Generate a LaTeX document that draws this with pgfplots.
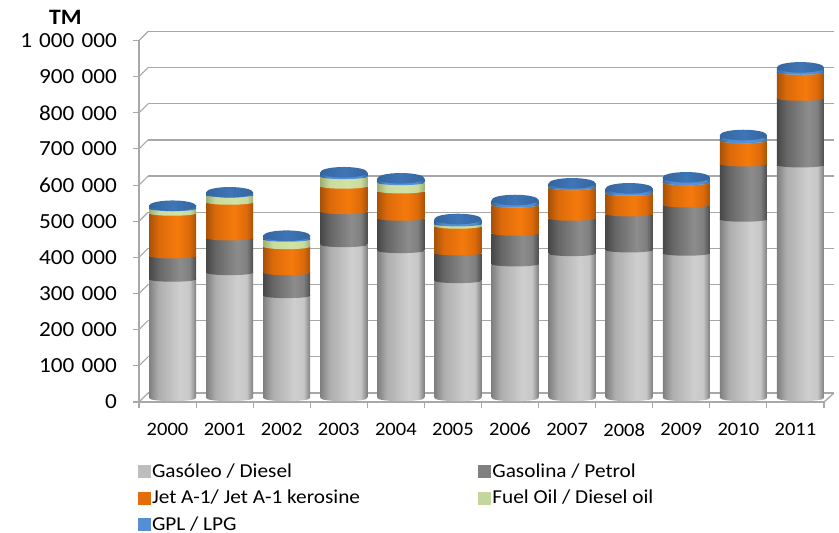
\documentclass[border=0pt]{standalone}
\usepackage{pgfplots}
\usepackage{pgfplotstable}
\usepackage{fontspec}
\pgfplotsset{compat=1.18}
\setmainfont[FakeStretch=1.08]{Carlito}
\definecolor{wall}{HTML}{A8A8A8}
\definecolor{cGas}{HTML}{BEBEBE}
\definecolor{cPet}{HTML}{808080}
\definecolor{cJet}{HTML}{E46C0A}
\definecolor{cFue}{HTML}{C3D69B}
\definecolor{cGpl}{HTML}{558ED5}
\pgfdeclarehorizontalshading{shGas}{100bp}{color(0bp)=(black!50!white); color(25bp)=(black!50!white); color(35bp)=(black!32!white); color(58bp)=(black!19!white); color(68bp)=(black!22!white); color(75bp)=(black!50!white); color(100bp)=(black!50!white)}
\pgfdeclarehorizontalshading{shPet}{100bp}{color(0bp)=(black!72!white); color(25bp)=(black!72!white); color(35bp)=(black!60!white); color(58bp)=(black!45!white); color(68bp)=(black!50!white); color(75bp)=(black!70!white); color(100bp)=(black!70!white)}
\definecolor{oD}{HTML}{A85208}
\definecolor{oM}{HTML}{DC6A0A}
\definecolor{oL}{HTML}{F57A0C}
\pgfdeclarehorizontalshading{shJet}{100bp}{color(0bp)=(oD); color(25bp)=(oD); color(35bp)=(oM); color(55bp)=(oL); color(68bp)=(oM); color(75bp)=(oD); color(100bp)=(oD)}
\definecolor{gD}{HTML}{9DAF74}
\definecolor{gL}{HTML}{D0E3A4}
\pgfdeclarehorizontalshading{shFue}{100bp}{color(0bp)=(gD); color(25bp)=(gD); color(35bp)=(gL!85!gD); color(55bp)=(gL); color(68bp)=(gL!85!gD); color(75bp)=(gD); color(100bp)=(gD)}
\definecolor{bD}{HTML}{34659F}
\definecolor{bL}{HTML}{5593DF}
\definecolor{bT}{HTML}{3F75B6}
\pgfdeclarehorizontalshading{shGpl}{100bp}{color(0bp)=(bD); color(25bp)=(bD); color(35bp)=(bL!85!bD); color(55bp)=(bL); color(68bp)=(bL!85!bD); color(75bp)=(bD); color(100bp)=(bD)}
\pgfdeclarehorizontalshading{shTop}{100bp}{color(0bp)=(bD); color(25bp)=(bD); color(50bp)=(bT); color(75bp)=(bD); color(100bp)=(bD)}
\newcommand{\cylmark}[3]{\pgfdeclareplotmark{#1}{\pgfpathellipse{\pgfpointorigin}{\pgfqpoint{23.5pt}{0pt}}{\pgfqpoint{0pt}{#3pt}}\pgfshadepath{#2}{0}\pgfusepath{discard}}}
\cylmark{mGas}{shGas}{3.2}\cylmark{mPet}{shPet}{2.4}\cylmark{mJet}{shJet}{2.4}\cylmark{mFue}{shFue}{2.4}\cylmark{mGpl}{shGpl}{2.4}\cylmark{mTop}{shTop}{5.3}
\pgfplotstableread{
x gas pet jet fue gpl
0.5 328300 64400 118100 12700 8300
1.5 346500 96000 98700 20200 7500
2.5 282900 63600 71900 20500 10000
3.5 424000 91300 70300 26600 12200
4.5 407400 89600 75500 23000 12200
5.5 324400 76600 73900 6400 13800
6.5 370600 84900 78300 1 13800
7.5 399100 97900 84600 1 12200
8.5 409300 99600 57300 1 13800
9.5 400200 133600 61700 1 14900
10.5 494200 153000 64400 1 15800
11.5 644400 184500 71900 1 13800
}\data
\pgfplotsset{
 sw/.style={legend image code/.code={\fill[#1] (0pt,-6pt) rectangle (12pt,6pt);}},
 ell/.style={stack plots=false, sharp plot, only marks, forget plot, mark=#1},
 front/.style={at={(144pt,135pt)},anchor=south west,scale only axis,width=685pt,height=361.5pt,
   xmin=0,xmax=12,ymin=0,ymax=1000000,clip=false,hide axis},
}
\begin{document}
\begin{tikzpicture}[x=1pt,y=1pt]
\useasboundingbox (0,0) rectangle (839,533);
% back wall
\begin{axis}[at={(148pt,140pt)},anchor=south west,scale only axis,width=686pt,height=361.5pt,
 xmin=0,xmax=12,ymin=0,ymax=1000000,xtick=\empty,ytick={0,100000,200000,300000,400000,500000,600000,700000,800000,900000,1000000},
 scaled y ticks=false,
 yticklabels={},ymajorgrids,major grid style={wall,line width=1.3pt},axis line style={draw=none},ytick style={draw=none}]
\end{axis}
% front plane with ticks
\begin{axis}[at={(139pt,131pt)},anchor=south west,scale only axis,width=685pt,height=361.5pt,
 xmin=0,xmax=12,ymin=0,ymax=1000000,clip=false,
 axis x line*=bottom,axis y line*=left,axis line style={wall,line width=1.3pt,-},
 tick style={wall,line width=1.1pt},tick align=outside,major tick length=6.5pt,
 xtick={0,1,2,3,4,5,6,7,8,9,10,11,12},x tick label as interval,
 xticklabels={2000,2001,2002,2003,2004,2005,2006,2007,2008,2009,2010,2011},
 xticklabel style={font=\fontsize{19}{20}\selectfont,yshift=-11pt},
 ytick={0,100000,200000,300000,400000,500000,600000,700000,800000,900000,1000000},
 scaled y ticks=false,
 yticklabel style={font=\fontsize{21.5}{24}\selectfont,xshift=-12pt,/pgf/number format/.cd,fixed,precision=0,assume math mode=true,1000 sep={\,\,}},
 ]
\pgfplotsinvokeforeach{0,100000,200000,300000,400000,500000,600000,700000,800000,900000,1000000}{
 \draw[wall,line width=1.1pt] (axis cs:0,#1) -- ++(9pt,9pt);
}
\draw[wall,line width=1.3pt] (axis cs:12,0) -- ++(10pt,9pt);
\end{axis}
% bars: one axis per year so that each cylinder has its own shading
\pgfplotsinvokeforeach{0,1,2,3,4,5,6,7,8,9,10,11}{
\begin{axis}[front,ybar stacked,reverse stacked plots=false,bar width=47pt,restrict x to domain=#1.2:#1.8]
\addplot[ell=mGas] table[x=x,y expr=0] {\data};
\addplot[draw=none,shade,shading=shGas] table[x=x,y=gas] {\data};
\addplot[ell=mPet] table[x=x,y expr=\thisrow{gas}] {\data};
\addplot[draw=none,shade,shading=shPet] table[x=x,y=pet] {\data};
\addplot[ell=mJet] table[x=x,y expr=\thisrow{gas}+\thisrow{pet}] {\data};
\addplot[draw=none,shade,shading=shJet] table[x=x,y=jet] {\data};
\addplot[ell=mFue] table[x=x,y expr=\thisrow{gas}+\thisrow{pet}+\thisrow{jet}] {\data};
\addplot[draw=none,shade,shading=shFue] table[x=x,y=fue] {\data};
\addplot[ell=mGpl] table[x=x,y expr=\thisrow{gas}+\thisrow{pet}+\thisrow{jet}+\thisrow{fue}] {\data};
\addplot[draw=none,shade,shading=shGpl] table[x=x,y=gpl] {\data};
\addplot[ell=mTop] table[x=x,y expr=\thisrow{gas}+\thisrow{pet}+\thisrow{jet}+\thisrow{fue}+\thisrow{gpl}] {\data};
\end{axis}
}
% legend
\begin{axis}[front,
 legend columns=2,
 legend style={at={(-0.014,-0.171)},anchor=north west,draw=none,fill=none,
   font=\fontsize{19.7}{21}\selectfont,row sep=7pt,
   /tikz/every even column/.append style={column sep=116pt}},
 legend cell align=left,
 ]
\addlegendimage{sw=cGas}\addlegendentry{Gasóleo / Diesel}
\addlegendimage{sw=cPet}\addlegendentry{Gasolina / Petrol}
\addlegendimage{sw=cJet}\addlegendentry{Jet A-1/ Jet A-1 kerosine}
\addlegendimage{sw=cFue}\addlegendentry{Fuel Oil / Diesel oil}
\addlegendimage{sw=cGpl}\addlegendentry{GPL / LPG}
\end{axis}
\node[font=\fontsize{22}{24}\selectfont\bfseries] at (65.5,516) {TM};
\end{tikzpicture}
\end{document}
